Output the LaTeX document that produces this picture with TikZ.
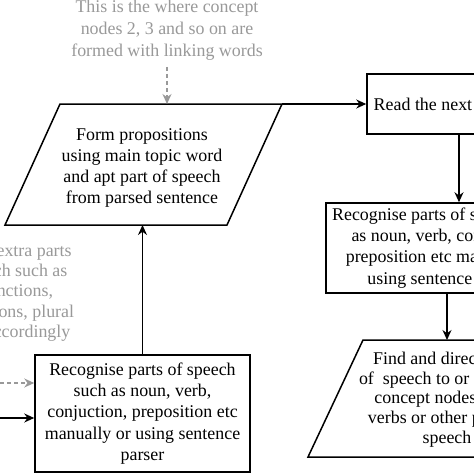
\documentclass[tikz,border=0pt]{standalone}
\usepackage{fontspec}
\setmainfont{Liberation Serif}
\usetikzlibrary{arrows.meta}
\definecolor{lgray}{gray}{0.6}
\begin{document}
\begin{tikzpicture}[x=1pt,y=-1pt,
  txt/.style={align=center,font=\fontsize{17.9}{21.2}\selectfont,inner sep=0pt},
  gtxt/.style={txt,text=lgray},
  boxline/.style={draw=black,line width=1.5pt},
  arr/.style={-{Stealth[length=10pt,width=9pt]},line width=1.4pt},
  garr/.style={-{Stealth[length=10pt,width=9pt]},draw=lgray,line width=1.3pt,dash pattern=on 4pt off 3pt}]
\useasboundingbox (0,0) rectangle (474,474);
\clip (0,0) rectangle (474,474);
\fill[white] (0,0) rectangle (474,474);

% top note
\node[gtxt,font=\fontsize{17.9}{22}\selectfont] (note1) at (167,30.5) {This is the where concept\\nodes 2, 3 and so on are\\formed with linking words};

% parallelogram 1
\coordinate (P1tl) at (60,104);
\coordinate (P1tr) at (282,104);
\coordinate (P1br) at (227,225);
\coordinate (P1bl) at (5,225);
\coordinate (P1top) at (167,104);
\coordinate (P1bot) at (143,225);
\draw[boxline,line join=miter] (P1tl) -- (P1tr) -- (P1br) -- (P1bl) -- cycle;
\node[txt] (P1) at (142,168) {Form propositions\\using main topic word\\and apt part of speech\\from parsed sentence};

% read box
\node[txt,boxline,minimum width=178pt,minimum height=60pt] (read) at (456,104) {Read the next sentence};

% recognise box right
\node[txt,boxline,minimum width=236pt,minimum height=90pt] (rec2) at (444,248) {Recognise parts of speech such\\as noun, verb, conjuction,\\preposition etc manually or\\using sentence parser};

% parallelogram 2
\coordinate (P2tl) at (363,340);
\coordinate (P2tr) at (600,340);
\coordinate (P2br) at (545,457);
\coordinate (P2bl) at (308,457);
\coordinate (P2top) at (447,340);
\draw[boxline,line join=miter] (P2tl) -- (P2tr) -- (P2br) -- (P2bl) -- cycle;
\node[txt,font=\fontsize{17.9}{19.6}\selectfont] (P2) at (447,399.5) {Find and direct parts\\of\ \ speech to or from the\\concept nodes using\\verbs or other parts of\\speech};

% recognise box left
\node[txt,boxline,minimum width=215pt,minimum height=117pt] (rec1) at (142.5,413.5) {Recognise parts of speech\\such as noun, verb,\\conjuction, preposition etc\\manually or using sentence\\parser};

% left note
\node[gtxt,font=\fontsize{17.9}{20.3}\selectfont] (note2) at (5,292.5) {Include extra parts\\of speech such as\\conjunctions,\\prepositions, plural\\forms accordingly};

% left inputs
\coordinate (gin) at (0,383);
\coordinate (bin) at (0,418);

% connectors
\draw[garr] ([yshift=-6pt]note1.south) -- (P1top);
\draw[arr] (P1tr) -- (read.west);
\draw[arr] ([xshift=3pt]read.south) -- ([xshift=3pt]read.south |- rec2.north);
\draw[arr] ([xshift=3pt]rec2.south) -- (P2top);
\draw[arr] (rec1.north) -- (rec1.north |- P1bot);
\draw[garr] (gin) -- (rec1.west |- gin);
\draw[arr] (bin) -- (rec1.west |- bin);
\end{tikzpicture}
\end{document}
